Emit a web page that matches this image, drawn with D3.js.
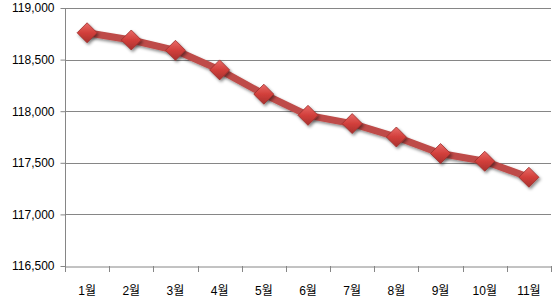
<!DOCTYPE html>
<html>
<head>
<meta charset="utf-8">
<script src="https://cdn.jsdelivr.net/npm/d3@7"></script>
<style>
  body { margin: 0; background: #fff; }
  text { font-family: "Liberation Sans", "Noto Sans CJK KR", sans-serif; font-size: 12px; fill: #000; }
</style>
</head>
<body>
<div id="chart"></div>
<script>
const months = ["1월", "2월", "3월", "4월", "5월", "6월", "7월", "8월", "9월", "10월", "11월"];
const values = [118760, 118690, 118590, 118400, 118165, 117960, 117880, 117750, 117590, 117515, 117360];
const yTicks = [116500, 117000, 117500, 118000, 118500, 119000];

const width = 559, height = 301;
const margin = { top: 8, right: 8, bottom: 35, left: 65 };

const svg = d3.select("#chart").append("svg")
    .attr("width", width)
    .attr("height", height);

const defs = svg.append("defs");

// ombre des marqueurs
const shadow = defs.append("filter").attr("id", "shadow")
    .attr("x", "-50%").attr("y", "-50%").attr("width", "200%").attr("height", "200%");
shadow.append("feDropShadow")
    .attr("dx", 1.5).attr("dy", 2).attr("stdDeviation", 1.5)
    .attr("flood-color", "#000").attr("flood-opacity", 0.45);

const grad = defs.append("linearGradient").attr("id", "dgrad")
    .attr("x1", "0").attr("y1", "0").attr("x2", "0").attr("y2", "1");
grad.append("stop").attr("offset", "0%").attr("stop-color", "#e86b68");
grad.append("stop").attr("offset", "50%").attr("stop-color", "#d23f3b");
grad.append("stop").attr("offset", "100%").attr("stop-color", "#a8312e");

const x = d3.scaleBand()
    .domain(months)
    .range([margin.left, width - margin.right]);

const y = d3.scaleLinear()
    .domain([116500, 119000])
    .range([height - margin.bottom, margin.top]);

// lignes de grille
svg.append("g")
    .selectAll("line")
    .data(yTicks.slice(1))
    .enter().append("line")
    .attr("x1", margin.left)
    .attr("x2", width - margin.right)
    .attr("y1", d => Math.round(y(d)) + 0.5)
    .attr("y2", d => Math.round(y(d)) + 0.5)
    .attr("stroke", "#868686");

// axe Y
const yAxis = svg.append("g")
    .attr("transform", `translate(${margin.left + 0.5},0)`)
    .call(d3.axisLeft(y).tickValues(yTicks).tickSize(5).tickPadding(6).tickFormat(d3.format(",")));
yAxis.selectAll("line, path").attr("stroke", "#868686");
yAxis.select(".domain").attr("d", `M0,${y(116500)}V${y(119000)}`);
yAxis.selectAll("text").style("font-size", "12px").attr("fill", "#000");

// axe X
const xAxis = svg.append("g")
    .attr("transform", `translate(0,${Math.round(y(116500)) + 0.5})`)
    .call(d3.axisBottom(x).tickSize(0).tickPadding(20));
xAxis.select(".domain").attr("stroke", "#868686");
xAxis.selectAll("text").style("font-size", "12px").attr("fill", "#000");
svg.append("g")
    .selectAll("line")
    .data(months.map(m => x(m)).concat([x.range()[1]]))
    .enter().append("line")
    .attr("x1", d => Math.round(d) + 0.5)
    .attr("x2", d => Math.round(d) + 0.5)
    .attr("y1", Math.round(y(116500)))
    .attr("y2", Math.round(y(116500)) + 6)
    .attr("stroke", "#868686");

const cx = (d, i) => x(months[i]) + x.bandwidth() / 2;

// la courbe
const line = d3.line()
    .x((d, i) => cx(d, i))
    .y(d => y(d));

svg.append("path")
    .datum(values)
    .attr("fill", "none")
    .attr("stroke", "#be4b48")
    .attr("stroke-width", 7)
    .attr("stroke-linejoin", "round")
    .attr("filter", "url(#shadow)")
    .attr("d", line);

// marqueurs en losange
const r = 10;
svg.append("g")
    .selectAll("path")
    .data(values)
    .enter().append("path")
    .attr("d", (d, i) => {
        const px = cx(d, i), py = y(d);
        return `M${px},${py - r}L${px + r},${py}L${px},${py + r}L${px - r},${py}Z`;
    })
    .attr("fill", "url(#dgrad)")
    .attr("stroke", "#9c2f2c")
    .attr("stroke-width", 0.8)
    .attr("filter", "url(#shadow)");
</script>
</body>
</html>
